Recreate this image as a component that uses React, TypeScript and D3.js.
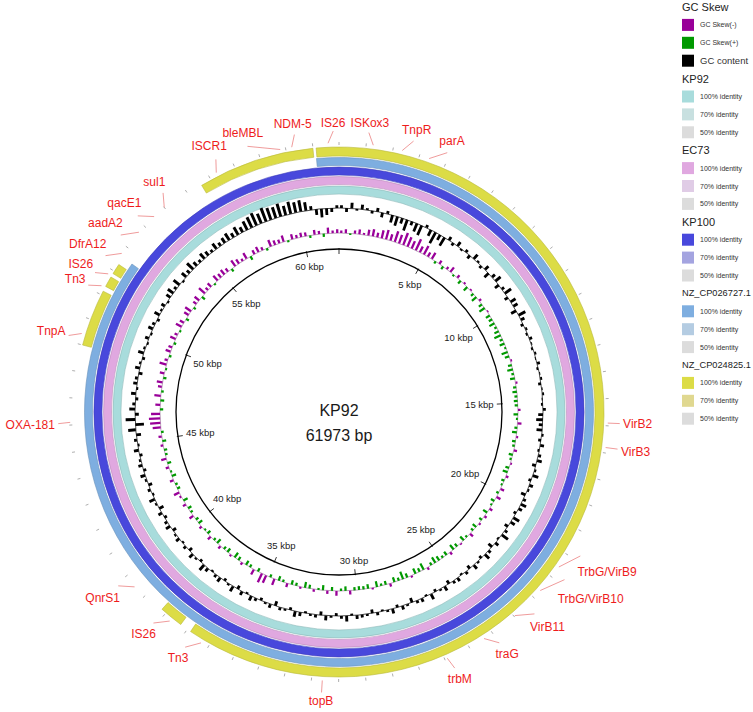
import React, { useRef, useEffect } from 'react';
import * as d3 from 'd3';

const genomeName = 'KP92';
const genomeLength = 61973;
const windowKbp = 0.25;

// GC content deviation from the mean (%), 250 bp windows
const gcContent = [
  3, -4, 6, -2, 5, 2, -3, 4, -5, 3, -8, -10, -6, -12, -4, -9, -11, 3, -7, -13,
  -6, -10, 4, -3, 5, -2, 3, -4, 6, 2, -3, 5, -6, 4, 7, -5, 3, 8, -4, 6,
  5, -6, 8, 4, -3, 2, -2, 3, 1, -2, 2, -1, 3, -2, 1, 2, -3, 1, 2, -1,
  -2, 3, -5, -7, -4, -6, 2, -3, 4, -2, 3, 5, -4, 2, 6, -3, 4, 2, -5, 3,
  6, 4, -3, 7, 5, -4, 3, 8, -2, 4, -5, 3, 6, -3, 2, 5, -4, 3, -2, 4,
  3, -4, 5, 2, -3, 6, -2, 4, 3, -5, 2, 4, -3, 5, 2, -2, 3, -4, 2, 3,
  4, -2, 6, 3, -3, 2, 5, -4, 3, 2, -2, 4, 6, -3, 2, 3, -5, 4, 2, -3,
  3, 5, -2, 4, -4, 6, 2, -3, 5, 3, -2, 4, 7, -3, 2, 5, -4, 3, -2, 4,
  2, -4, 5, 3, -3, 4, -5, 2, 6, -2, 3, -4, 2, 5, -3, 4, 2, -3, 5, -2,
  3, -5, 8, -9, 10, -4, 6, 3, -3, 5, -2, 4, 3, -4, 5, 2, -3, 6, 2, -2,
  4, -2, 5, 3, -3, 6, 2, 4, -2, 5, 7, 3, 8, -2, 6, 4, 9, 5, 3, 7,
  5, 3, 7, 4, 6, 8, 5, 9, 6, 10, 12, 14, 11, 15, 13, 12, 14, 10, 13, 11,
  12, 9, 4, -6, -9, -7, -4, 3,
];

// GC skew x100, 250 bp windows (negative = purple, positive = green)
const gcSkew = [
  -8, -12, 5, -10, -15, -6, -18, -22, -14, -25, -30, -20, -35, -28, -40, -32, -25, -38, -20, -30,
  -15, -22, 8, -12, 10, -8, -18, 6, -10, 12, -6, 15, -5, 10, 18, -8, 12, 20, -4, 14,
  12, 18, 8, 15, 22, 10, 16, 6, 20, 14, -5, 12, 18, 8, 15, -6, 10, 14, 9, 12,
  10, -8, 14, 6, -12, 9, 15, -6, 11, 8, -10, 13, 7, -5, 12, 16, -8, 10, 6, -12,
  8, -14, 12, 6, -10, 15, -8, 10, -6, 14, 9, -12, 7, 16, -5, 11, 18, -9, 13, 8,
  15, 20, 10, -8, 22, 12, 18, -6, 14, 25, 10, 16, -10, 12, 8, 18, -5, 14, 10, 12,
  10, -12, 14, 8, -15, 12, -10, 16, 6, -8, 12, 18, -6, 10, 14, -12, 8, 15, -20, 10,
  -25, -30, 12, -18, 10, 15, -8, 12, 18, -6, 14, 10, -10, 16, 8, -12, 12, 6, -8, 14,
  10, -14, 8, 12, -10, 15, -6, -18, 10, 8, -12, 14, 6, -10, 12, -16, 8, 10, -8, 12,
  -10, 8, -25, -32, -35, -28, 10, -15, 12, -20, 8, -12, -18, 10, -14, 6, -22, -10, 8, -16,
  -12, 8, -18, -10, 6, -20, -14, 10, -16, -22, 8, -12, -18, 12, -25, -10, -15, 6, -20, -14,
  -18, -12, 10, -22, -16, -8, -20, 12, -14, -18, -10, 8, -22, -15, -12, -20, 6, -16, -10, -14,
  -12, 8, -15, -10, 10, -18, -8, -12,
];

const ringNames = ['KP92', 'EC73', 'KP100', 'NZ_CP026727.1', 'NZ_CP024825.1'];
const ringColors = ['#a8dcdc', '#e0a8e0', '#4848dc', '#7eaee0', '#dcdc46'];
const ringColors70 = ['#c8e0e0', '#e0cce6', '#a4a4e0', '#b4cce2', '#e0d890'];
const ringColors50 = ['#dcdcdc', '#dcdcdc', '#dcdcdc', '#dcdcdc', '#dcdcdc'];
// BLAST hits (kbp start, end), end < start wraps past the origin
const ringHits = [
  [[0, 61.973]],
  [[0, 61.973]],
  [[0, 61.973]],
  [[61.1, 52.6]],
  [[56.6, 61.0], [61.12, 36.85], [37.3, 38.2], [49.0, 51.15], [51.35, 51.75], [51.9, 52.3]],
];

const geneNames = [
  'ISKox3', 'TnpR', 'parA', 'VirB2', 'VirB3', 'TrbG/VirB9', 'TrbG/VirB10', 'VirB11',
  'traG', 'trbM', 'topB', 'Tn3', 'IS26', 'QnrS1', 'OXA-181', 'TnpA', 'Tn3', 'IS26',
  'DfrA12', 'aadA2', 'qacE1', 'sul1', 'ISCR1', 'bleMBL', 'NDM-5', 'IS26',
];
const geneKbp = [
  1.26, 2.34, 3.37, 15.9, 16.8, 21.55, 22.65, 23.96,
  25.37, 26.9, 31.6, 36.3, 37.7, 39.5, 46.1, 49.4, 51.3, 51.8,
  52.7, 53.7, 54.5, 55.0, 57.3, 59.8, 60.23, 61.57,
];
const labelKbp = [
  1.05, 2.65, 3.9, 15.9, 16.8, 20.8, 21.8, 23.4,
  25.0, 26.8, 31.6, 36.7, 38.1, 39.9, 46.07, 49.2, 51.1, 51.6,
  52.3, 53.2, 54.1, 55.3, 57.5, 58.7, 60.4, 61.77,
];

const scaleTicks = [0, 5, 10, 15, 20, 25, 30, 35, 40, 45, 50, 55, 60];

const W = 753;
const H = 712;
const FONT = 'Liberation Sans, Arial, sans-serif';

const App: React.FC = () => {
  const ref = useRef<SVGSVGElement>(null);

  useEffect(() => {
    if (!ref.current) return;
    const svg = d3.select(ref.current);
    svg.selectAll('*').remove();

    const cx = 339;
    const cy = 412;
    const totalKbp = genomeLength / 1000;
    const angle = d3.scaleLinear().domain([0, totalKbp]).range([0, 2 * Math.PI]);
    const px = (a: number, r: number) => cx + r * Math.sin(a);
    const py = (a: number, r: number) => cy - r * Math.cos(a);

    const g = svg.append('g').attr('transform', `translate(${cx},${cy})`);
    const arc = d3.arc<any>();

    // identity rings
    ringNames.forEach((name, i) => {
      const r0 = 218 + i * 9.5;
      const r1 = r0 + (i === 4 ? 9 : 8);
      ringHits[i].forEach(([s, e]) => {
        const end = e < s ? e + totalKbp : e;
        g.append('path')
          .attr('d', arc({ innerRadius: r0, outerRadius: r1, startAngle: angle(s), endAngle: angle(end) }))
          .attr('fill', ringColors[i])
          .attr('stroke', d3.color(ringColors[i])!.darker(0.5).toString())
          .attr('stroke-width', 0.6);
      });
    });

    // GC content spikes
    const gcBase = 204;
    g.append('circle').attr('r', gcBase).attr('fill', 'none').attr('stroke', '#000').attr('stroke-width', 0.7);
    gcContent.forEach((v, i) => {
      const a0 = angle(i * windowKbp + windowKbp * 0.2);
      const a1 = angle(Math.min(i * windowKbp + windowKbp * 0.75, totalKbp));
      g.append('path')
        .attr('d', arc({ innerRadius: gcBase, outerRadius: gcBase + v * 0.95, startAngle: a0, endAngle: a1 }))
        .attr('fill', '#000');
    });

    // GC skew
    const skBase = 179;
    g.append('circle').attr('r', skBase).attr('fill', 'none').attr('stroke', '#7a4a7a').attr('stroke-width', 0.5);
    gcSkew.forEach((v, i) => {
      const a0 = angle(i * windowKbp + windowKbp * 0.25);
      const a1 = angle(Math.min(i * windowKbp + windowKbp * 0.75, totalKbp));
      g.append('path')
        .attr('d', arc({ innerRadius: skBase, outerRadius: skBase - v * 0.32, startAngle: a0, endAngle: a1 }))
        .attr('fill', v < 0 ? '#990099' : '#009900');
    });

    // backbone scale
    const rs = 163;
    g.append('circle').attr('r', rs).attr('fill', 'none').attr('stroke', '#000').attr('stroke-width', 1.3);
    scaleTicks.forEach(k => {
      const a = angle(k);
      g.append('line')
        .attr('x1', (rs - 5) * Math.sin(a)).attr('y1', -(rs - 5) * Math.cos(a))
        .attr('x2', (rs + 1) * Math.sin(a)).attr('y2', -(rs + 1) * Math.cos(a))
        .attr('stroke', '#000').attr('stroke-width', 0.8);
      if (k === 0) return;
      const t = svg.append('text')
        .attr('font-family', FONT).attr('font-size', 9.5).attr('fill', '#222')
        .attr('text-anchor', 'middle').attr('dominant-baseline', 'central')
        .text(`${k} kbp`);
      const bb = (t.node() as SVGTextElement).getBBox();
      const r = rs - 8 - (bb.width / 2) * Math.abs(Math.sin(a)) - 4 * Math.abs(Math.cos(a));
      t.attr('x', px(a, r)).attr('y', py(a, r));
    });

    // outer kbp ticks
    d3.range(0, Math.floor(totalKbp) + 1).forEach(k => {
      const a = angle(k);
      g.append('line')
        .attr('x1', 267 * Math.sin(a)).attr('y1', -267 * Math.cos(a))
        .attr('x2', 270 * Math.sin(a)).attr('y2', -270 * Math.cos(a))
        .attr('stroke', '#999').attr('stroke-width', 0.8);
    });

    // gene labels
    geneNames.forEach((name, i) => {
      const ag = angle(geneKbp[i]);
      const al = angle(labelKbp[i]);
      svg.append('line')
        .attr('x1', px(ag, 269)).attr('y1', py(ag, 269))
        .attr('x2', px(al, 281)).attr('y2', py(al, 281))
        .attr('stroke', '#e87070').attr('stroke-width', 0.7);
      const t = svg.append('text')
        .attr('font-family', FONT).attr('font-size', 12).attr('fill', '#ee1c1c')
        .attr('text-anchor', 'middle').attr('dominant-baseline', 'central')
        .text(name);
      const bb = (t.node() as SVGTextElement).getBBox();
      const r = 284 + (bb.width / 2) * Math.abs(Math.sin(al)) + 5 * Math.abs(Math.cos(al));
      t.attr('x', px(al, r)).attr('y', py(al, r));
    });

    // centre title
    svg.append('text').attr('x', cx).attr('y', cy - 2)
      .attr('font-family', FONT).attr('font-size', 16).attr('fill', '#1a1a1a')
      .attr('text-anchor', 'middle').attr('dominant-baseline', 'central')
      .text(genomeName);
    svg.append('text').attr('x', cx).attr('y', cy + 23)
      .attr('font-family', FONT).attr('font-size', 16).attr('fill', '#1a1a1a')
      .attr('text-anchor', 'middle').attr('dominant-baseline', 'central')
      .text(`${genomeLength} bp`);

    // legend
    type Row = { kind: 'title' | 'item'; text: string; color?: string; big?: boolean };
    const rows: Row[] = [
      { kind: 'title', text: 'GC Skew' },
      { kind: 'item', text: 'GC Skew(-)', color: '#990099' },
      { kind: 'item', text: 'GC Skew(+)', color: '#009900' },
      { kind: 'item', text: 'GC content', color: '#000000', big: true },
    ];
    ringNames.forEach((n, i) => {
      rows.push({ kind: 'title', text: n });
      rows.push({ kind: 'item', text: '100% identity', color: ringColors[i] });
      rows.push({ kind: 'item', text: '70% identity', color: ringColors70[i] });
      rows.push({ kind: 'item', text: '50% identity', color: ringColors50[i] });
    });
    const lg = svg.append('g');
    rows.forEach((row, i) => {
      const y = 7 + i * 17.9;
      if (row.kind === 'title') {
        const t = lg.append('text').attr('x', 682).attr('y', y)
          .attr('font-family', FONT).attr('font-size', 11).attr('fill', '#222')
          .attr('dominant-baseline', 'central').text(row.text);
        const w = (t.node() as SVGTextElement).getComputedTextLength();
        if (w > 69) t.attr('font-size', (11 * 69) / w);
      } else {
        lg.append('rect').attr('x', 682).attr('y', y - 6).attr('width', 12).attr('height', 12)
          .attr('fill', row.color!);
        lg.append('text').attr('x', 700).attr('y', y)
          .attr('font-family', FONT).attr('font-size', row.big ? 9.5 : 7).attr('fill', '#333')
          .attr('dominant-baseline', 'central').text(row.text);
      }
    });
  }, []);

  return (
    <svg
      ref={ref}
      width={W}
      height={H}
      style={{ position: 'absolute', left: 0, top: 0, background: '#fff' }}
    />
  );
};

export default App;
